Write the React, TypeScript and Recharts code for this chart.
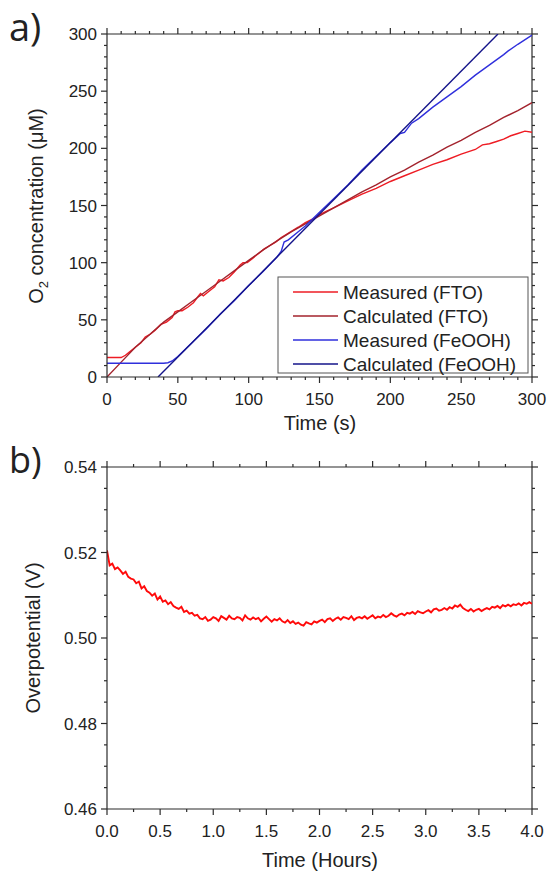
import React from 'react'
import { LineChart, Line, XAxis, YAxis, ReferenceLine } from 'recharts'

// panel a: O2 evolution, time in s, concentration in uM
const ftoMeasuredTime = [0, 10, 13, 16, 20, 24, 27, 30, 34, 38, 42, 46, 48, 50, 53, 57, 61, 64, 66, 68, 72, 76, 79, 82, 86, 90, 94, 96, 99, 103, 107, 111, 115, 119, 123, 127, 131, 135, 140, 145, 150, 155, 160, 170, 180, 190, 200, 210, 220, 230, 240, 250, 260, 265, 270, 275, 280, 285, 290, 295, 300]
const ftoMeasuredO2 = [17, 17, 19, 22, 26, 30, 35, 37, 41, 46, 48, 52, 57, 58, 58, 61, 65, 70, 73, 71, 75, 79, 85, 84, 87, 92, 98, 100, 100, 104, 108, 112, 115, 118, 122, 125, 128, 131, 135, 138, 142, 145, 148, 154, 160, 165, 171, 176, 181, 186, 190, 195, 199, 203, 204, 206, 208, 211, 213, 215, 214]

const ftoCalcTime = [0, 10, 20, 30, 40, 50, 60, 70, 80, 90, 100, 110, 120, 130, 140, 150, 160, 170, 180, 190, 200, 210, 220, 230, 240, 250, 260, 270, 280, 290, 300]
const ftoCalcO2 = [0, 13, 26, 37, 48, 57, 66, 75, 84, 93, 102, 111, 119, 127, 134, 141, 148, 155, 162, 168, 175, 181, 188, 194, 201, 207, 214, 220, 227, 233, 240]

const feoohMeasuredTime = [0, 10, 20, 30, 40, 43, 46, 50, 60, 70, 80, 90, 100, 110, 120, 123, 125, 128, 135, 140, 150, 160, 170, 180, 190, 200, 207, 210, 215, 220, 230, 240, 250, 260, 270, 280, 283, 290, 300]
const feoohMeasuredO2 = [12, 12, 12, 12, 12, 12.5, 14, 18, 30, 42, 55, 67, 80, 92, 105, 110, 118, 120, 127, 132, 144, 156, 168, 181, 193, 205, 213, 214, 222, 226, 236, 245, 254, 264, 273, 282, 285, 291, 299]

const feoohCalcTime = [36, 276]
const feoohCalcO2 = [0, 300]

const timeTicksS = [0, 50, 100, 150, 200, 250, 300]
const o2Ticks = [0, 50, 100, 150, 200, 250, 300]

// panel b: stability run, sampled every 0.025 h
const sampleStepHours = 0.025
const overpotentialV = [
  0.5205, 0.5170, 0.5174, 0.5161, 0.5165, 0.5158, 0.5150, 0.5155,
  0.5143, 0.5139, 0.5137, 0.5128, 0.5132, 0.5116, 0.5121, 0.5110,
  0.5106, 0.5099, 0.5104, 0.5090, 0.5097, 0.5085, 0.5088, 0.5079,
  0.5084, 0.5075, 0.5071, 0.5068, 0.5073, 0.5061, 0.5064, 0.5057,
  0.5059, 0.5052, 0.5054, 0.5046, 0.5044, 0.5049, 0.5040, 0.5043,
  0.5049, 0.5046, 0.5040, 0.5051, 0.5047, 0.5043, 0.5052, 0.5046,
  0.5044, 0.5049, 0.5047, 0.5041, 0.5053, 0.5046, 0.5043, 0.5048,
  0.5044, 0.5047, 0.5039, 0.5045, 0.5050, 0.5044, 0.5038, 0.5044,
  0.5041, 0.5046, 0.5039, 0.5036, 0.5042, 0.5035, 0.5039, 0.5033,
  0.5036, 0.5031, 0.5029, 0.5037, 0.5034, 0.5032, 0.5039, 0.5036,
  0.5040, 0.5043, 0.5037, 0.5044, 0.5046, 0.5040, 0.5045, 0.5048,
  0.5043, 0.5049, 0.5047, 0.5044, 0.5051, 0.5042, 0.5047, 0.5049,
  0.5046, 0.5051, 0.5045, 0.5049, 0.5053, 0.5046, 0.5050, 0.5048,
  0.5054, 0.5049, 0.5052, 0.5058, 0.5053, 0.5050, 0.5055, 0.5057,
  0.5053, 0.5059, 0.5057, 0.5061, 0.5056, 0.5063, 0.5060, 0.5058,
  0.5062, 0.5065, 0.5060, 0.5067, 0.5069, 0.5064, 0.5066, 0.5070,
  0.5066, 0.5072, 0.5069, 0.5076, 0.5073, 0.5078, 0.5070, 0.5066,
  0.5063, 0.5068, 0.5062, 0.5066, 0.5068, 0.5063, 0.5067, 0.5070,
  0.5067, 0.5073, 0.5071, 0.5075, 0.5070, 0.5077, 0.5074, 0.5078,
  0.5074, 0.5079, 0.5077, 0.5081, 0.5076, 0.5082, 0.5080, 0.5084,
  0.5080,
]
const hourTicks = [0, 0.5, 1, 1.5, 2, 2.5, 3, 3.5, 4]
const overpotentialTicks = [0.46, 0.48, 0.5, 0.52, 0.54]

const legendNames = ['Measured (FTO)', 'Calculated (FTO)', 'Measured (FeOOH)', 'Calculated (FeOOH)']
const seriesColors = ['#ee1c24', '#a3232d', '#2f2fdc', '#14148a']

const FONT = '"Liberation Sans", Arial, sans-serif'
const AXIS = '#2b2b2b'
const TEXT = '#222'

const PLOT_W = 425
const PLOT_H = 343

const pairs = (ts: number[], vs: number[]) => ts.map((t, i) => ({ t, v: vs[i] }))

// majors plus (sub - 1) evenly spaced minor ticks between each pair
function withMinor(majors: number[], sub: number) {
  const out: number[] = []
  majors.forEach((m, i) => {
    out.push(m)
    if (i < majors.length - 1) {
      const step = (majors[i + 1] - m) / sub
      for (let k = 1; k < sub; k++) out.push(+(m + k * step).toFixed(6))
    }
  })
  return out
}

const isIn = (majors: number[]) => (v: number) => majors.some((m) => Math.abs(m - v) < 1e-6)

function makeXTick(majors: number[], fmt: (v: number) => string, plotH: number) {
  const isMajor = isIn(majors)
  return (props: any) => {
    const { x, y, payload } = props
    const major = isMajor(payload.value)
    const len = major ? 6 : 3
    return (
      <g>
        <line x1={x} x2={x} y1={y} y2={y + len} stroke={AXIS} strokeWidth={1.2} />
        <line x1={x} x2={x} y1={y - plotH} y2={y - plotH - len} stroke={AXIS} strokeWidth={1.2} />
        {major && (
          <text x={x} y={y + 28} textAnchor="middle" fontSize={17} fontFamily={FONT} fill={TEXT}>
            {fmt(payload.value)}
          </text>
        )}
      </g>
    )
  }
}

function makeYTick(majors: number[], fmt: (v: number) => string, plotW: number) {
  const isMajor = isIn(majors)
  return (props: any) => {
    const { x, y, payload } = props
    const major = isMajor(payload.value)
    const len = major ? 6 : 3
    return (
      <g>
        <line x1={x - len} x2={x} y1={y} y2={y} stroke={AXIS} strokeWidth={1.2} />
        <line x1={x + plotW} x2={x + plotW + len} y1={y} y2={y} stroke={AXIS} strokeWidth={1.2} />
        {major && (
          <text x={x - 10} y={y} dy="0.36em" textAnchor="end" fontSize={17} fontFamily={FONT} fill={TEXT}>
            {fmt(payload.value)}
          </text>
        )}
      </g>
    )
  }
}

function O2Chart() {
  const series = [
    pairs(ftoMeasuredTime, ftoMeasuredO2),
    pairs(ftoCalcTime, ftoCalcO2),
    pairs(feoohMeasuredTime, feoohMeasuredO2),
    pairs(feoohCalcTime, feoohCalcO2),
  ]
  return (
    <LineChart width={550} height={440} margin={{ top: 34, right: 18, bottom: 33, left: 47 }}>
      <XAxis
        dataKey="t"
        type="number"
        domain={[0, 300]}
        allowDataOverflow
        ticks={withMinor(timeTicksS, 5)}
        interval={0}
        tickSize={0}
        tickMargin={0}
        tickLine={false}
        axisLine={{ stroke: AXIS, strokeWidth: 1.2 }}
        tick={makeXTick(timeTicksS, (v) => String(v), PLOT_H)}
      />
      <YAxis
        type="number"
        domain={[0, 300]}
        allowDataOverflow
        ticks={withMinor(o2Ticks, 5)}
        interval={0}
        tickSize={0}
        tickMargin={0}
        tickLine={false}
        axisLine={{ stroke: AXIS, strokeWidth: 1.2 }}
        tick={makeYTick(o2Ticks, (v) => String(v), PLOT_W)}
      />
      <ReferenceLine y={300} stroke={AXIS} strokeWidth={1.2} />
      <ReferenceLine x={300} stroke={AXIS} strokeWidth={1.2} />
      {series.map((d, i) => (
        <Line
          key={legendNames[i]}
          data={d}
          dataKey="v"
          type="linear"
          stroke={seriesColors[i]}
          strokeWidth={1.4}
          dot={false}
          isAnimationActive={false}
        />
      ))}
    </LineChart>
  )
}

function StabilityChart() {
  const data = overpotentialV.map((v, i) => ({ t: i * sampleStepHours, v }))
  return (
    <LineChart width={550} height={435} margin={{ top: 27, right: 18, bottom: 36, left: 47 }}>
      <XAxis
        dataKey="t"
        type="number"
        domain={[0, 4]}
        allowDataOverflow
        ticks={withMinor(hourTicks, 2)}
        interval={0}
        tickSize={0}
        tickMargin={0}
        tickLine={false}
        axisLine={{ stroke: AXIS, strokeWidth: 1.2 }}
        tick={makeXTick(hourTicks, (v) => v.toFixed(1), 342)}
      />
      <YAxis
        type="number"
        domain={[0.46, 0.54]}
        allowDataOverflow
        ticks={withMinor(overpotentialTicks, 4)}
        interval={0}
        tickSize={0}
        tickMargin={0}
        tickLine={false}
        axisLine={{ stroke: AXIS, strokeWidth: 1.2 }}
        tick={makeYTick(overpotentialTicks, (v) => v.toFixed(2), PLOT_W)}
      />
      <ReferenceLine y={0.54} stroke={AXIS} strokeWidth={1.2} />
      <ReferenceLine x={4} stroke={AXIS} strokeWidth={1.2} />
      <Line data={data} dataKey="v" type="linear" stroke="#ff0a0a" strokeWidth={1.9} dot={false} isAnimationActive={false} />
    </LineChart>
  )
}

function Labels() {
  const rowY = [292, 316, 340, 364]
  return (
    <svg width={550} height={875} style={{ position: 'absolute', left: 0, top: 0, pointerEvents: 'none' }}>
      <g fontFamily={FONT} fill={TEXT}>
        <text x={9} y={41} fontSize={38} fontFamily='"Open Sans", sans-serif'>a)</text>
        <text x={9} y={473} fontSize={36} fontFamily='"Open Sans", sans-serif'>b)</text>

        <text transform="translate(43,206) rotate(-90)" textAnchor="middle" fontSize={20}>
          O<tspan dy={5} fontSize={13}>2</tspan>
          <tspan dy={-5}> concentration (μM)</tspan>
        </text>
        <text x={320} y={430} textAnchor="middle" fontSize={20}>Time (s)</text>

        <text transform="translate(40,638) rotate(-90)" textAnchor="middle" fontSize={20}>Overpotential (V)</text>
        <text x={320} y={867} textAnchor="middle" fontSize={20}>Time (Hours)</text>

        <rect x={278} y={277} width={250} height={96} fill="#fff" stroke="#555" strokeWidth={1} />
        {legendNames.map((name, i) => (
          <g key={name}>
            <line x1={293} x2={338} y1={rowY[i]} y2={rowY[i]} stroke={seriesColors[i]} strokeWidth={1.4} />
            <text x={343} y={rowY[i] + 7} fontSize={19}>{name}</text>
          </g>
        ))}
      </g>
    </svg>
  )
}

export default function App() {
  return (
    <div style={{ position: 'absolute', left: 0, top: 0, width: 550, height: 875, background: '#fff' }}>
      <div style={{ position: 'absolute', left: 0, top: 0 }}>
        <O2Chart />
      </div>
      <div style={{ position: 'absolute', left: 0, top: 440 }}>
        <StabilityChart />
      </div>
      <Labels />
    </div>
  )
}
